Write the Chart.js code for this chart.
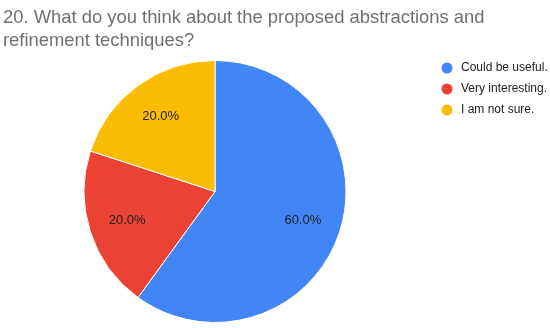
<!DOCTYPE html>
<html>
<head>
<meta charset="utf-8">
<script src="https://cdn.jsdelivr.net/npm/chart.js@4.4.1/dist/chart.umd.min.js"></script>
<style>
  html, body { margin: 0; padding: 0; background: #fff; }
  #wrap { width: 550px; height: 328px; position: relative; }
</style>
</head>
<body>
<div id="wrap"><canvas id="pie-chart"></canvas></div>
<script>
const titleLines = ["20. What do you think about the proposed abstractions and",
                    "refinement techniques?"];
const labels = ["Could be useful.", "Very interesting.", "I am not sure."];
const values = [60, 20, 20];
const colors = ['#4285F4', '#EA4335', '#FBBC04'];

const fontFamily = '"Liberation Sans", Arial, sans-serif';

// title, slice percentages and legend are drawn by hand to match the layout
const extrasPlugin = {
    id: 'extras',
    afterDraw(chart) {
        const ctx = chart.ctx;
        ctx.save();

        ctx.fillStyle = '#707070';
        ctx.font = '18.4px ' + fontFamily;
        ctx.textAlign = 'left';
        ctx.textBaseline = 'alphabetic';
        titleLines.forEach((line, i) => ctx.fillText(line, 3, 23 + i * 23));

        const total = values.reduce((a, b) => a + b, 0);
        const meta = chart.getDatasetMeta(0);
        ctx.fillStyle = '#222';
        ctx.font = '13px ' + fontFamily;
        ctx.textAlign = 'center';
        ctx.textBaseline = 'middle';
        meta.data.forEach((arc, i) => {
            const p = arc.getProps(['x', 'y', 'startAngle', 'endAngle', 'outerRadius'], true);
            const mid = (p.startAngle + p.endAngle) / 2;
            const d = p.outerRadius * 0.705;
            const pct = (values[i] / total * 100).toFixed(1) + '%';
            ctx.fillText(pct, p.x + Math.cos(mid) * d, p.y + Math.sin(mid) * d);
        });

        ctx.font = '12px ' + fontFamily;
        ctx.textAlign = 'left';
        labels.forEach((label, i) => {
            const y = 68 + i * 21;
            ctx.fillStyle = colors[i];
            ctx.beginPath();
            ctx.arc(447, y, 5.5, 0, Math.PI * 2);
            ctx.fill();
            ctx.fillStyle = '#222';
            ctx.fillText(label, 461, y);
        });

        ctx.restore();
    }
};

new Chart(document.getElementById('pie-chart'), {
    type: 'pie',
    data: {
        labels: labels,
        datasets: [{
            data: values,
            backgroundColor: colors,
            borderColor: '#fff',
            borderWidth: 1
        }]
    },
    options: {
        responsive: true,
        maintainAspectRatio: false,
        animation: false,
        layout: {
            padding: { top: 60, bottom: 5, left: 83, right: 203 }
        },
        plugins: {
            legend: { display: false },
            title: { display: false },
            tooltip: { enabled: false }
        }
    },
    plugins: [extrasPlugin]
});
</script>
</body>
</html>
